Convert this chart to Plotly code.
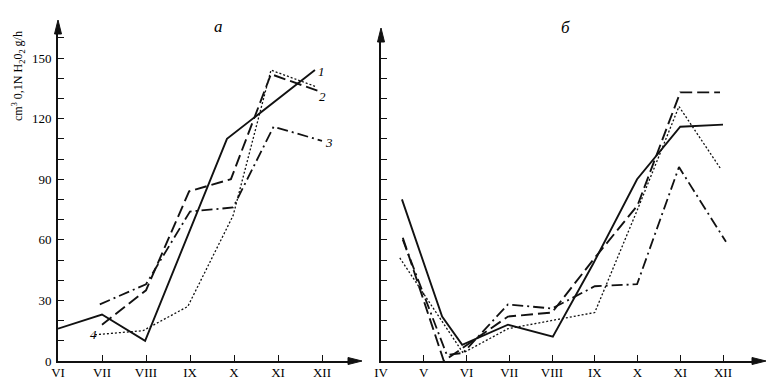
import plotly.graph_objects as go

W, H = 778, 386
PAGE_OFFSET = 8  # default body margin of the html page

# ---- data: panel a (months as numbers, VI=6 ... XII=12)
a_solid_x = [6, 7, 7.98, 9, 9.84, 11.84]
a_solid_y = [16, 23, 10, 65, 110, 144]
a_dash_x = [7, 8, 8.98, 9.93, 10.84, 12]
a_dash_y = [18, 35, 84, 90, 142, 133]
a_dashdot_x = [6.95, 8, 9, 9.98, 10.9, 12]
a_dashdot_y = [28, 38, 74, 76, 116, 109]
a_dot_x = [6.84, 7.93, 8.95, 9.98, 10.84, 11.84]
a_dot_y = [13, 15, 27, 72, 144, 136]

# ---- data: panel б (IV=4 ... XII=12)
b_solid_x = [4.49, 5.43, 5.9, 6.97, 8.02, 8.96, 9.99, 11, 12]
b_solid_y = [80, 22, 8, 18, 12, 48, 90, 116, 117]
b_dash_x = [4.51, 5.47, 6.97, 8, 8.96, 10, 11, 11.93]
b_dash_y = [61, 0, 22, 24, 50, 77, 133, 133]
b_dashdot_x = [4.51, 5.54, 5.92, 6.97, 8, 9, 9.99, 10.97, 12.07]
b_dashdot_y = [60, 3, 4, 28, 26, 37, 38, 96, 59]
b_dot_x = [4.44, 5.92, 6.97, 8, 9, 10, 10.97, 11.95]
b_dot_y = [51, 4, 16, 20, 24, 75, 126, 95]

a_months = [6, 7, 8, 9, 10, 11, 12]
a_month_labels = ["VI", "VII", "VIII", "IX", "X", "XI", "XII"]
b_months = [4, 5, 6, 7, 8, 9, 10, 11, 12]
b_month_labels = ["IV", "V", "VI", "VII", "VIII", "IX", "X", "XI", "XII"]
y_major = [0, 30, 60, 90, 120, 150]
y_minor_step = 10
curve_labels = ["1", "2", "3", "4"]

INK = "#111111"
SERIF = "Liberation Serif"

def px_x(p):
    return (p - PAGE_OFFSET) / W

def px_y(p):
    return 1 - (p - PAGE_OFFSET) / H

styles = [
    dict(dash="solid", width=1.9),
    dict(dash="12px,5px", width=1.9),
    dict(dash="11px,4px,2px,4px", width=1.8),
    dict(dash="2px,2px", width=1.3),
]

fig = go.Figure()
a_series = [(a_solid_x, a_solid_y), (a_dash_x, a_dash_y), (a_dashdot_x, a_dashdot_y), (a_dot_x, a_dot_y)]
b_series = [(b_solid_x, b_solid_y), (b_dash_x, b_dash_y), (b_dashdot_x, b_dashdot_y), (b_dot_x, b_dot_y)]
for (xs, ys), st in zip(a_series, styles):
    fig.add_trace(go.Scatter(x=xs, y=ys, mode="lines", xaxis="x", yaxis="y",
                             line=dict(color=INK, **st), showlegend=False, hoverinfo="skip"))
for (xs, ys), st in zip(b_series, styles):
    fig.add_trace(go.Scatter(x=xs, y=ys, mode="lines", xaxis="x2", yaxis="y2",
                             line=dict(color=INK, **st), showlegend=False, hoverinfo="skip"))

# pixel geometry (screen pixels of the reference)
a_x0, a_x1 = 58, 352
a_step = 44.0
b_x0, b_x1 = 381, 756
b_step = 42.75
y_bot = 361
y_scale = 2.02
a_ytop = 30
b_ytop = 38

axis_common = dict(showgrid=False, zeroline=False, showline=True, linecolor=INK, linewidth=1.6,
                   ticks="inside", tickcolor=INK, tickwidth=1.4, automargin=False,
                   tickfont=dict(family=SERIF, size=13, color="#000000"))
minor = dict(dtick=y_minor_step, ticks="inside", ticklen=6, tickcolor=INK, tickwidth=1.4, showgrid=False)

fig.update_layout(
    width=W, height=H, margin=dict(l=0, r=0, t=0, b=0),
    paper_bgcolor="white", plot_bgcolor="white",
    xaxis=dict(domain=[px_x(a_x0), px_x(a_x1)], range=[6, 6 + (a_x1 - a_x0) / a_step],
               tickvals=a_months, ticktext=a_month_labels, ticklen=6, ticklabelstandoff=-1,
               anchor="y", **axis_common),
    yaxis=dict(domain=[px_y(y_bot), px_y(a_ytop)], range=[0, (y_bot - a_ytop) / y_scale],
               tickvals=y_major, ticklen=6, minor=minor, ticklabelstandoff=2, anchor="x", **axis_common),
    xaxis2=dict(domain=[px_x(b_x0), px_x(b_x1)], range=[4, 4 + (b_x1 - b_x0) / b_step],
                tickvals=b_months, ticktext=b_month_labels, ticklen=6, ticklabelstandoff=-1,
                anchor="y2", **axis_common),
    yaxis2=dict(domain=[px_y(y_bot), px_y(b_ytop)], range=[0, (y_bot - b_ytop) / y_scale],
                tickvals=y_major[1:], showticklabels=False, ticklen=6, minor=minor,
                anchor="x2", **axis_common),
)

# arrowheads as filled triangles (paper coords)
def tri(points):
    d = "M " + " L ".join(f"{px_x(x)},{px_y(y)}" for x, y in points) + " Z"
    return dict(type="path", xref="paper", yref="paper", path=d, fillcolor=INK,
                line=dict(color=INK, width=1))

shapes = [
    tri([(a_x0, a_ytop - 10), (a_x0 - 3.5, a_ytop + 4), (a_x0 + 3.5, a_ytop + 4)]),
    tri([(a_x1 + 10, y_bot), (a_x1 - 4, y_bot - 3.5), (a_x1 - 4, y_bot + 3.5)]),
    tri([(b_x0, b_ytop - 10), (b_x0 - 3.5, b_ytop + 4), (b_x0 + 3.5, b_ytop + 4)]),
    tri([(b_x1 + 10, y_bot), (b_x1 - 4, y_bot - 3.5), (b_x1 - 4, y_bot + 3.5)]),
]

ann = []
def text_at(x, y, txt, size, angle=0):
    ann.append(dict(x=px_x(x), y=px_y(y), xref="paper", yref="paper", text=txt, showarrow=False,
                    xanchor="center", yanchor="middle", textangle=angle,
                    font=dict(family=SERIF, size=size, color="#000000")))

text_at(218, 27, "<i>a</i>", 17)
text_at(565, 28, "<i>б</i>", 17)
text_at(19, 76, "cm<sup>3</sup> 0,1N H<sub>2</sub>0<sub>2</sub> g/h", 12, angle=-90)
for lab, (x, y) in zip(curve_labels, [(321, 71), (322, 96), (329, 142), (93, 334)]):
    text_at(x, y, "<i>" + lab + "</i>", 13)

fig.update_layout(annotations=ann, shapes=shapes)

fig.write_html("out.html")
